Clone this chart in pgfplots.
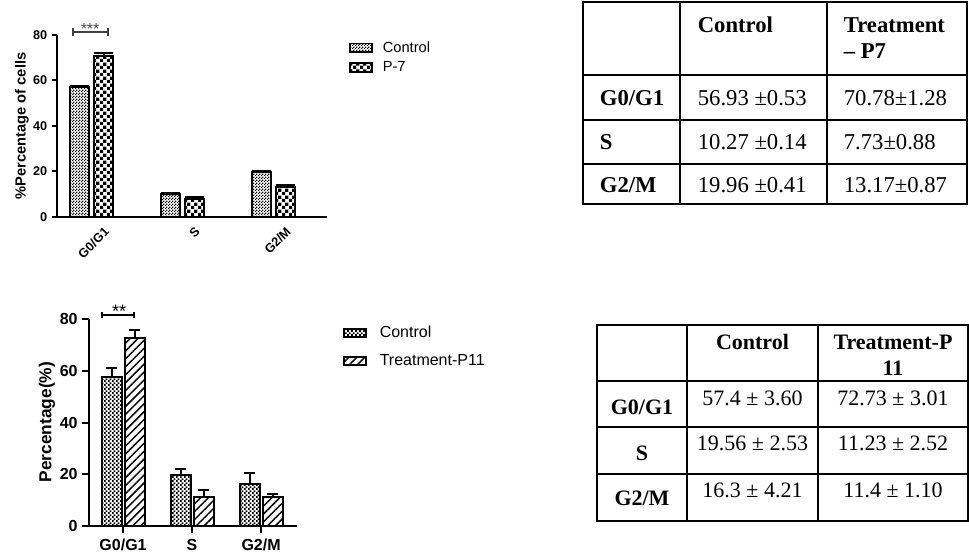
\documentclass[border=0pt]{standalone}
\usepackage{fontspec}
\setmainfont{Liberation Sans}
\newfontfamily\tabfont{Liberation Serif}
\usepackage{pgfplots}
\usepackage{pgfplotstable}
\pgfplotsset{compat=1.18}
\usetikzlibrary{patterns,patterns.meta}

\pgfdeclarepatternformonly{checkA}{\pgfqpoint{0pt}{0pt}}{\pgfqpoint{2pt}{2pt}}{\pgfqpoint{2pt}{2pt}}{%
  \pgfpathrectangle{\pgfqpoint{0pt}{0pt}}{\pgfqpoint{1pt}{1pt}}%
  \pgfpathrectangle{\pgfqpoint{1pt}{1pt}}{\pgfqpoint{1pt}{1pt}}%
  \pgfusepath{fill}}
\pgfdeclarepatternformonly{checkB}{\pgfqpoint{0pt}{0pt}}{\pgfqpoint{2.8pt}{2.8pt}}{\pgfqpoint{2.8pt}{2.8pt}}{%
  \pgfpathrectangle{\pgfqpoint{0pt}{0pt}}{\pgfqpoint{1.4pt}{1.4pt}}%
  \pgfpathrectangle{\pgfqpoint{1.4pt}{1.4pt}}{\pgfqpoint{1.4pt}{1.4pt}}%
  \pgfusepath{fill}}
\pgfdeclarepatternformonly{checkC}{\pgfqpoint{0pt}{0pt}}{\pgfqpoint{5pt}{5pt}}{\pgfqpoint{5pt}{5pt}}{%
  \pgfpathrectangle{\pgfqpoint{0pt}{0pt}}{\pgfqpoint{2.5pt}{2.5pt}}%
  \pgfpathrectangle{\pgfqpoint{2.5pt}{2.5pt}}{\pgfqpoint{2.5pt}{2.5pt}}%
  \pgfusepath{fill}}

\pgfplotstableread{
x ctrl ctrlerr trt trterr
0 56.93 0.53 70.78 1.28
1 10.27 0.14 7.73 0.88
2 19.96 0.41 13.17 0.87
}\dataA
\pgfplotstableread{
x ctrl ctrlerr trt trterr
0 57.4 3.60 72.73 3.01
1 19.56 2.53 11.23 2.52
2 16.3 4.21 11.4 1.10
}\dataB

\pgfplotsset{
  gpstyle/.style={
    scale only axis, clip=false, enlargelimits=false,
    separate axis lines,
    axis x line*=bottom, axis y line*=left,
    x axis line style={-, line width=1.5pt},
    y axis line style={-, line width=1.5pt},
    tick align=outside,
    tick style={line width=1.5pt, black},
    ymin=0, ymax=80, ytick={0,20,40,60,80},
    /pgf/number format/assume math mode=true,
    ybar,
    legend cell align=left,
  },
}

\begin{document}
\begin{tikzpicture}
\begin{scope}[x=0.75pt,y=-0.75pt]
  \fill[white] (0,0) rectangle (969,551);
  \useasboundingbox (0,0) rectangle (969,551);
  \coordinate (A1) at (57,217);
  \coordinate (A2) at (89,526);
\end{scope}

% ---------------- Chart 1 ----------------
\begin{axis}[gpstyle,
  at={(A1)}, anchor=south west,
  width=202.5pt, height=136.5pt,
  xmin=-0.38, xmax=2.59,
  xtick={0.13,1.13,2.13}, xticklabels={G0/G1,S,G2/M},
  x tick style={draw=none},
  major tick length=3.75pt,
  ticklabel style={font=\bfseries\fontsize{9.5}{10}\selectfont},
  xticklabel style={yshift=-1.5pt, rotate=45, anchor=north east, inner sep=1pt},
  ylabel={\%Percentage of cells},
  ylabel style={font=\bfseries\fontsize{11}{12}\selectfont, at={(axis description cs:-0.13,0.5)}, anchor=center},
  legend style={at={(1.0815,0.876)}, anchor=west, draw=none, fill=none,
    font=\fontsize{11}{12}\selectfont, inner sep=0pt, outer sep=0pt, row sep=5.5pt,
    nodes={inner sep=0pt}},
  legend image code/.code={\draw[#1, line width=1.2pt] (0pt,-3.2pt) rectangle (16.5pt,3.2pt); \path (24pt,0pt);},
]
\addplot[bar width=14.5pt, bar shift=-9pt, draw=black, line width=1.5pt, pattern=checkA,
  error bars/.cd, y dir=plus, y explicit,
  error bar style={line width=1.5pt, black},
  error mark options={rotate=90, mark size=7pt, line width=1.5pt, black}]
  table[x=x, y=ctrl, y error=ctrlerr] {\dataA};
\addlegendentry{Control}
\addplot[bar width=14.5pt, bar shift=9pt, draw=black, line width=1.5pt, pattern=checkC,
  error bars/.cd, y dir=plus, y explicit,
  error bar style={line width=1.5pt, black},
  error mark options={rotate=90, mark size=7pt, line width=1.5pt, black}]
  table[x=x, y=trt, y error=trterr] {\dataA};
\addlegendentry{P-7}
\draw[line width=1pt, black!75] (axis cs:-0.203,81.3) -- (axis cs:0.181,81.3);
\draw[line width=1pt, black!75] (axis cs:-0.203,79.6) -- (axis cs:-0.203,83.1);
\draw[line width=1pt, black!75] (axis cs:0.181,79.6) -- (axis cs:0.181,83.1);
\node[anchor=base, inner sep=0pt, text=black!70, font=\fontsize{12}{12}\selectfont] at (axis cs:-0.016,80.4) {***};
\end{axis}

% ---------------- Chart 2 ----------------
\begin{axis}[gpstyle,
  at={(A2)}, anchor=south west,
  width=156pt, height=155.25pt,
  xmin=-0.493, xmax=2.52,
  xtick={0,1,2}, xticklabels={G0/G1,S,G2/M},
  major tick length=5pt,
  ticklabel style={font=\bfseries\fontsize{12}{13}\selectfont},
  xticklabel style={yshift=-1.5pt},
  ylabel={Percentage(\%)},
  ylabel style={font=\bfseries\fontsize{13}{14}\selectfont, at={(axis description cs:-0.202,0.502)}, anchor=center},
  legend style={at={(1.221,0.865)}, anchor=west, draw=none, fill=none,
    font=\fontsize{12}{13}\selectfont, inner sep=0pt, outer sep=0pt, row sep=11pt,
    nodes={inner sep=0pt}},
  legend image code/.code={\draw[#1, line width=1.2pt] (0pt,-3pt) rectangle (16.5pt,3pt); \path (26.25pt,0pt);},
]
\addplot[bar width=15pt, bar shift=-8.6pt, draw=black, line width=1.5pt, pattern=checkB,
  error bars/.cd, y dir=plus, y explicit,
  error bar style={line width=1.5pt, black},
  error mark options={rotate=90, mark size=4pt, line width=1.5pt, black}]
  table[x=x, y=ctrl, y error=ctrlerr] {\dataB};
\addlegendentry{Control}
\addplot[bar width=15pt, bar shift=8.6pt, draw=black, line width=1.5pt,
  pattern={Lines[angle=45, distance=4.2pt, line width=1.1pt]},
  error bars/.cd, y dir=plus, y explicit,
  error bar style={line width=1.5pt, black},
  error mark options={rotate=90, mark size=4pt, line width=1.5pt, black}]
  table[x=x, y=trt, y error=trterr] {\dataB};
\addlegendentry{Treatment-P11}
\draw[line width=1pt] (axis cs:-0.304,81.5) -- (axis cs:0.159,81.5);
\draw[line width=1pt] (axis cs:-0.304,80.4) -- (axis cs:-0.304,82.7);
\draw[line width=1pt] (axis cs:0.159,80.4) -- (axis cs:0.159,82.7);
\node[anchor=base, inner sep=0pt, font=\fontsize{13.5}{14}\selectfont] at (axis cs:-0.058,80.5) {**};
\end{axis}

% ---------------- Tables ----------------
\begin{scope}[x=0.75pt,y=-0.75pt, line width=1.3pt,
  every node/.style={inner sep=0pt, font=\tabfont\fontsize{17}{20}\selectfont}]
  % Table 1
  \draw (583,2) rectangle (967,204);
  \draw (680,2) -- (680,204);
  \draw (827,2) -- (827,204);
  \draw (583,75) -- (967,75);
  \draw (583,120) -- (967,120);
  \draw (583,164) -- (967,164);
  \node[anchor=west, font=\tabfont\bfseries\fontsize{17}{20}\selectfont] at (697,25) {Control};
  \node[anchor=west, font=\tabfont\bfseries\fontsize{17}{20}\selectfont] at (843,25) {Treatment};
  \node[anchor=west, font=\tabfont\bfseries\fontsize{17}{20}\selectfont] at (843,51) {– P7};
  \node[anchor=west, font=\tabfont\bfseries\fontsize{17}{20}\selectfont] at (599,98) {G0/G1};
  \node[anchor=west, font=\tabfont\bfseries\fontsize{17}{20}\selectfont] at (599,142) {S};
  \node[anchor=west, font=\tabfont\bfseries\fontsize{17}{20}\selectfont] at (599,185) {G2/M};
  \node[anchor=west] at (697,98) {56.93 ±0.53};
  \node[anchor=west] at (697,142) {10.27 ±0.14};
  \node[anchor=west] at (697,185) {19.96 ±0.41};
  \node[anchor=west] at (843,98) {70.78±1.28};
  \node[anchor=west] at (843,142) {7.73±0.88};
  \node[anchor=west] at (843,185) {13.17±0.87};
  % Table 2
  \begin{scope}[every node/.style={inner sep=0pt, font=\tabfont\fontsize{16.5}{19}\selectfont}]
  \draw (597,325) rectangle (968,521);
  \draw (687,325) -- (687,521);
  \draw (818,325) -- (818,521);
  \draw (597,381) -- (968,381);
  \draw (597,427) -- (968,427);
  \draw (597,474) -- (968,474);
  \node[font=\tabfont\bfseries\fontsize{16.5}{19}\selectfont] at (752.5,342) {Control};
  \node[font=\tabfont\bfseries\fontsize{16.5}{19}\selectfont] at (893,342) {Treatment-P};
  \node[font=\tabfont\bfseries\fontsize{16.5}{19}\selectfont] at (893,368) {11};
  \node[font=\tabfont\bfseries\fontsize{16.5}{19}\selectfont] at (642,407) {G0/G1};
  \node[font=\tabfont\bfseries\fontsize{16.5}{19}\selectfont] at (642,453) {S};
  \node[font=\tabfont\bfseries\fontsize{16.5}{19}\selectfont] at (642,498) {G2/M};
  \node at (752.5,398) {57.4 ± 3.60};
  \node at (752.5,443) {19.56 ± 2.53};
  \node at (752.5,490) {16.3 ± 4.21};
  \node at (893,398) {72.73 ± 3.01};
  \node at (893,443) {11.23 ± 2.52};
  \node at (893,490) {11.4 ± 1.10};
  \end{scope}
\end{scope}
\end{tikzpicture}
\end{document}
